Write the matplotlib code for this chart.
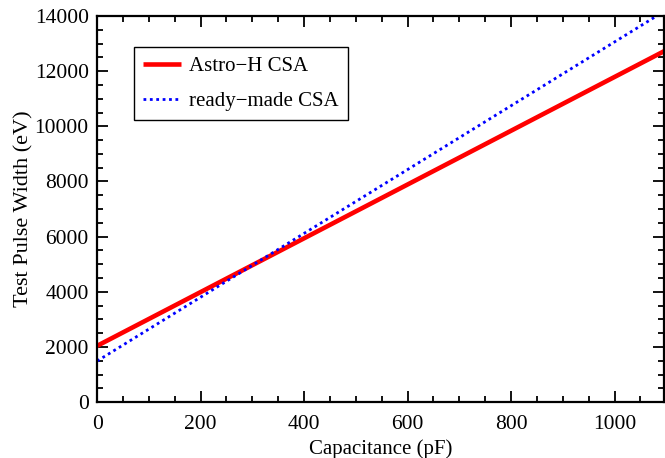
import numpy as np
import matplotlib.pyplot as plt
from matplotlib.ticker import MultipleLocator

"""data"""

cap      = np.array([0., 1100.])
astro_h  = np.array([2040., 12765.])
ready    = np.array([1490., 14217.])

"""plot"""

plt.rcParams['font.family'] = ['Liberation Serif', 'DejaVu Serif']
plt.rcParams['mathtext.fontset'] = 'stix'

fig = plt.figure(figsize=(6.65, 4.58), dpi=100)
ax1 = fig.add_axes([0.146, 0.122, 0.852, 0.843])

ax1.plot(cap, astro_h, color='red', lw=3.3, solid_capstyle='butt', label='Astro\u2212H CSA')
ax1.plot(cap, ready, color='blue', lw=2.0, linestyle=(0, (1.0, 1.3)), label='ready\u2212made CSA')

"""detail"""

ax1.set_xlim(0., 1095.)
ax1.set_ylim(0., 14000.)
ax1.xaxis.set_major_locator(MultipleLocator(200))
ax1.xaxis.set_minor_locator(MultipleLocator(50))
ax1.yaxis.set_major_locator(MultipleLocator(2000))
ax1.yaxis.set_minor_locator(MultipleLocator(500))
ax1.tick_params(which='both', direction='in', top=True, right=True, width=1.3, labelsize=15.5, pad=6)
ax1.tick_params(axis='x', which='major', pad=9)
ax1.tick_params(which='major', length=8)
ax1.tick_params(which='minor', length=4.5)
for s in ax1.spines.values():
    s.set_linewidth(1.6)

ax1.set_xlabel('Capacitance (pF)', fontsize=15, labelpad=4)
ax1.set_ylabel('Test Pulse Width (eV)', fontsize=16, labelpad=1)

leg = ax1.legend(loc='upper left', bbox_to_anchor=(0.065, 0.92), borderaxespad=0., fontsize=15,
                 fancybox=False, framealpha=1, edgecolor='black', handlelength=1.8, handletextpad=0.4,
                 borderpad=0.45, labelspacing=0.75)
leg.get_frame().set_linewidth(1.0)

"""save"""

plt.savefig('out.png', dpi=100)
